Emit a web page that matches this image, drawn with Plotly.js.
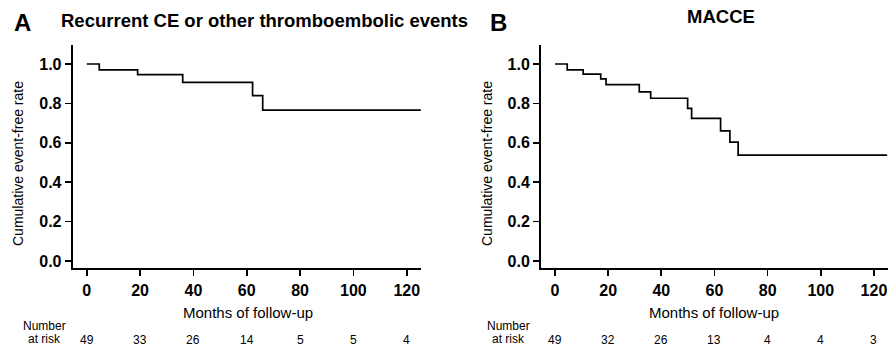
<!DOCTYPE html>
<html>
<head>
<meta charset="utf-8">
<script src="https://cdn.plot.ly/plotly-3.0.1.min.js"></script>
<style>html,body{margin:0;padding:0;background:#fff;}#chart{width:888px;height:355px;}</style>
</head>
<body>
<div id="chart"></div>
<script>
// Panel A: Recurrent CE or other thromboembolic events
const timesA = [0, 4.7, 19.1, 36, 62.2, 66, 125.3];
const survA  = [1.0, 0.970, 0.946, 0.907, 0.839, 0.766, 0.766];
// Panel B: MACCE
const timesB = [0, 4.6, 10.6, 17.2, 19.2, 31.7, 36, 49.9, 51.4, 62.3, 65.8, 68.9, 125];
const survB  = [1.0, 0.970, 0.949, 0.924, 0.895, 0.858, 0.826, 0.775, 0.724, 0.661, 0.603, 0.537, 0.537];
// Numbers at risk
const riskTimes = [0, 20, 40, 60, 80, 100, 120];
const riskA = [49, 33, 26, 14, 5, 5, 4];
const riskB = [49, 32, 26, 13, 4, 4, 3];
const xTicks = [0, 20, 40, 60, 80, 100, 120];
const yTicks = [0.0, 0.2, 0.4, 0.6, 0.8, 1.0];
const yTickText = ['0.0', '0.2', '0.4', '0.6', '0.8', '1.0'];

const W = 888, H = 355;
const FONT = 'Liberation Sans, Arial, sans-serif';

const traces = [
  {x: timesA, y: survA, xaxis: 'x', yaxis: 'y', mode: 'lines',
   line: {shape: 'hv', color: '#000', width: 1.7}, hoverinfo: 'skip', showlegend: false},
  {x: timesB, y: survB, xaxis: 'x2', yaxis: 'y2', mode: 'lines',
   line: {shape: 'hv', color: '#000', width: 1.7}, hoverinfo: 'skip', showlegend: false}
];

function xAx(domain, range, anchor) {
  return {domain: domain, range: range, anchor: anchor, showline: true, linewidth: 2, linecolor: '#000',
    ticks: 'outside', ticklen: 6, tickwidth: 1.7, tickcolor: '#000', tickvals: xTicks,
    tickfont: {family: FONT, size: 16, color: '#000', weight: 700}, showgrid: false, zeroline: false,
    fixedrange: true};
}
function yAx(domain, anchor) {
  return {domain: domain, range: [-0.037, 1.0964], anchor: anchor, showline: true, linewidth: 2, linecolor: '#000',
    ticks: 'outside', ticklen: 6, tickwidth: 1.7, tickcolor: '#000', tickvals: yTicks, ticktext: yTickText,
    tickfont: {family: FONT, size: 16, color: '#000', weight: 700}, showgrid: false, zeroline: false,
    fixedrange: true};
}

const yDom = [(H - 268.3) / H, (H - 45) / H];
const annotations = [];
function txt(x, y, text, size, bold, extra) {
  annotations.push(Object.assign({xref: 'paper', yref: 'paper', x: x / W, y: (H - y) / H, text: text,
    showarrow: false, xanchor: 'center', yanchor: 'middle',
    font: {family: FONT, size: size, color: '#000', weight: bold ? 700 : 400}}, extra || {}));
}
txt(22, 22, 'A', 24, true);
txt(264, 20, 'Recurrent CE or other thromboembolic events', 18.5, true);
txt(498, 22, 'B', 24, true);
txt(721, 16, 'MACCE', 18.5, true);
txt(248, 312, 'Months of follow-up', 15, false);
txt(714, 312, 'Months of follow-up', 15, false);
txt(18, 164, 'Cumulative event-free rate', 14, false, {textangle: -90});
txt(487, 164, 'Cumulative event-free rate', 14, false, {textangle: -90});
txt(44, 326, 'Number', 12, false);
txt(44, 339, 'at risk', 12, false);
txt(508, 326, 'Number', 12, false);
txt(508, 339, 'at risk', 12, false);
riskTimes.forEach((t, i) => {
  annotations.push({xref: 'x', yref: 'paper', x: t, y: (H - 340) / H, text: String(riskA[i]), showarrow: false,
    xanchor: 'center', yanchor: 'middle', font: {family: FONT, size: 12, color: '#000'}});
  annotations.push({xref: 'x2', yref: 'paper', x: t, y: (H - 340) / H, text: String(riskB[i]), showarrow: false,
    xanchor: 'center', yanchor: 'middle', font: {family: FONT, size: 12, color: '#000'}});
});

const layout = {
  width: W, height: H, margin: {l: 0, r: 0, t: 0, b: 0},
  paper_bgcolor: '#fff', plot_bgcolor: '#fff', showlegend: false,
  xaxis: xAx([72.7 / W, 421 / W], [-5.25, 125.35], 'y'),
  yaxis: yAx(yDom, 'x'),
  xaxis2: xAx([541 / W, 887.5 / W], [-5.27, 125.1], 'y2'),
  yaxis2: yAx(yDom, 'x2'),
  annotations: annotations
};

Plotly.newPlot('chart', traces, layout, {displayModeBar: false, staticPlot: true});
</script>
</body>
</html>
